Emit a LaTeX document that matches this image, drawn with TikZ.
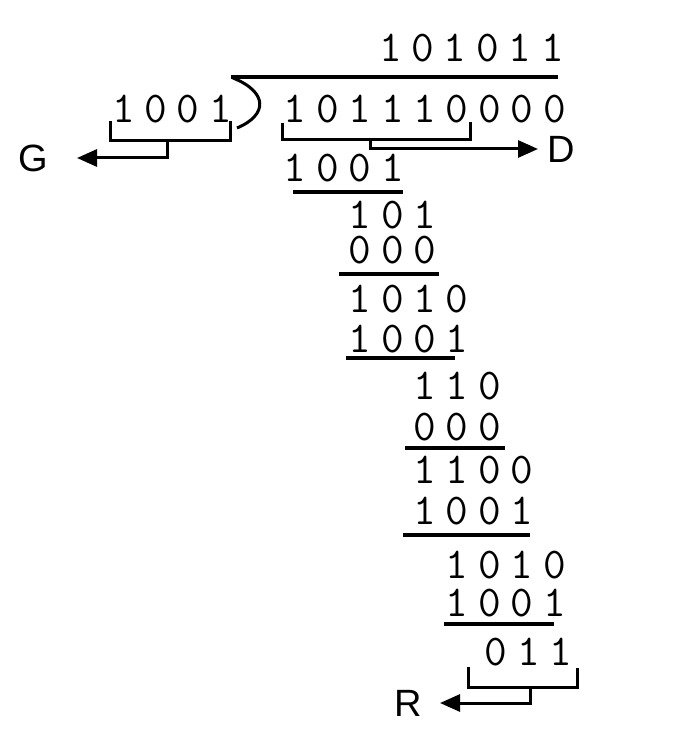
\documentclass[tikz,border=0pt]{standalone}
\usepackage{fontspec}
\newfontfamily\lblfont{Liberation Sans}
\usepackage{tikz}
\usetikzlibrary{arrows.meta,positioning}

% each digit in a box one column wide
\newlength\colw
\setlength\colw{32.4pt}
\def\spaced#1{\expandafter\spacedi#1\relax}
\def\spacedi#1{\ifx#1\relax\else\makebox[\colw]{#1}\expandafter\spacedi\fi}

\tikzset{
  bits/.style={font=\ttfamily\fontsize{44}{44}\selectfont,inner sep=0pt,anchor=base west},
  lbl/.style={font=\lblfont\fontsize{38}{38}\selectfont,inner sep=0pt},
  rule/.style={line width=3.3pt},
  brk/.style={line width=3pt},
  arr/.style={line width=3pt,-{Triangle[length=20pt,width=17pt]}}
}

\begin{document}
\begin{tikzpicture}[x=1pt,y=-1pt]
\useasboundingbox (0,0) rectangle (688,746);
% quotient, divisor, dividend
\node[bits] (quot) at (374,62) {\spaced{101011}};
\node[bits] (dvsr) at (107,123) {\spaced{1001}};
\node[bits] (divd) at (278.8,123) {\spaced{101110000}};
\draw[line width=3.5pt] (231,77) -- (558,77);
\draw[brk] (233,78) .. controls (268,92) and (268,115) .. (237,128);
% working rows: column / baseline / bits / name
\foreach \c/\b/\t/\n in {0/182/1001/w1, 2/228/101/w2, 2/263/000/w3, 2/312/1010/w4,
  2/352/1001/w5, 4/399/110/w6, 4/440/000/w7, 4/483/1100/w8, 4/524/1001/w9,
  5/578/1010/w10, 5/616/1001/w11, 6.2/665/011/rem}
  \node[bits] (\n) at (278.8+32.4*\c,\b) {\spaced{\t}};
\draw[rule] (293,192) -- (403,192);
\draw[rule] (339,274) -- (439,274);
\draw[rule] (346,358) -- (455,358);
\draw[rule] (405,448) -- (505,448);
\draw[rule] (403,535) -- (530,535);
\draw[rule] (444,624) -- (554,624);
% brackets and labels
\draw[brk] (110,121) -- (110,141) -- (230,141) -- (230,121);
\coordinate (gtip) at (77,158);
\node[lbl,left=29pt of gtip] (G) {G};
\draw[arr] (167,141) |- (gtip);
\draw[brk] (282,123) -- (282,140) -- (470,140) -- (470,122);
\coordinate (dtip) at (538,149);
\node[lbl,right=9pt of dtip] (D) {D};
\draw[arr] (370,140) |- (dtip);
\draw[brk] (468,667) -- (468,687) -- (577,687) -- (577,668);
\coordinate (rtip) at (440,703);
\node[lbl,left=18pt of rtip] (R) {R};
\draw[arr] (530,687) |- (rtip);
\end{tikzpicture}
\end{document}
